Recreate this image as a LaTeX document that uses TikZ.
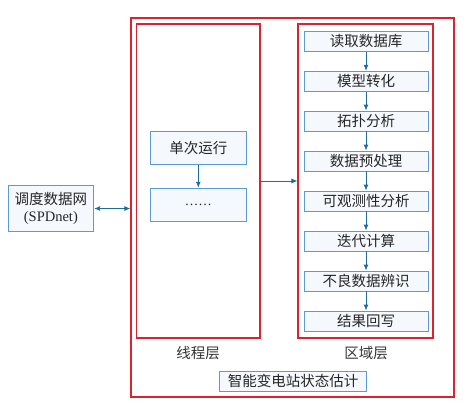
\documentclass[tikz,border=0pt]{standalone}
\usepackage{fontspec}
\setmainfont{Liberation Serif}
\newfontfamily\cjk{Noto Sans CJK SC}
\usetikzlibrary{arrows.meta}
\definecolor{redline}{HTML}{D9232D}
\definecolor{blueline}{HTML}{5B9BD5}
\definecolor{boxfill}{HTML}{F5F8FC}
\definecolor{arrowc}{HTML}{1F6E9A}
\begin{document}
\begin{tikzpicture}[x=1pt,y=-1pt,
  redbox/.style={draw=redline,line width=1.1pt,inner sep=0pt,anchor=center},
  bluebox/.style={draw=blueline,fill=boxfill,line width=0.9pt,inner sep=0pt,font=\cjk\fontsize{14.5}{16}\selectfont,text=black!85},
  stepbox/.style={bluebox,minimum width=124pt,minimum height=20pt},
  arr/.style={draw=arrowc,line width=0.9pt,-{Latex[length=6pt,width=5pt]}},
  darr/.style={draw=arrowc,line width=0.9pt,{Latex[length=6pt,width=5pt]}-{Latex[length=6pt,width=5pt]}},
  lbl/.style={font=\cjk\fontsize{14.5}{16}\selectfont,text=black!80}]
\useasboundingbox (0,0) rectangle (466,410);
\node[redbox,minimum width=323pt,minimum height=379pt] (outer) at (292.5,207.5) {};
\node[redbox,minimum width=123.5pt,minimum height=314pt] (thread) at (198.25,181) {};
\node[redbox,minimum width=135pt,minimum height=314pt] (region) at (365.5,181) {};
\node[stepbox] (s1) at (366,41.5) {读取数据库};
\node[stepbox] (s2) at (366,81.3) {模型转化};
\node[stepbox] (s3) at (366,121) {拓扑分析};
\node[stepbox] (s4) at (366,161) {数据预处理};
\node[stepbox] (s5) at (366,201) {可观测性分析};
\node[stepbox] (s6) at (366,241) {迭代计算};
\node[stepbox] (s7) at (366,281) {不良数据辨识};
\node[stepbox] (s8) at (366,321) {结果回写};
\foreach \a/\b in {s1/s2,s2/s3,s3/s4,s4/s5,s5/s6,s6/s7,s7/s8}
  \draw[arr] (\a.south) -- (\b.north);
\node[bluebox,minimum width=96pt,minimum height=33pt] (run) at (198.3,147.8) {单次运行};
\node[bluebox,minimum width=96pt,minimum height=33pt,font=\fontsize{13.5}{15}\selectfont] (dots) at (198.3,204.7) {……};
\draw[arr] (run.south) -- (dots.north);
\draw[arr] (thread.east) -- (region.west);
\node[bluebox,minimum width=85.7pt,minimum height=45.6pt,align=center,font=\fontsize{14.5}{17}\selectfont] (spd) at (50.85,208.5) {{\cjk 调度数据网}\\(SPDnet)};
\draw[darr] (spd.east) -- (spd.east -| outer.west);
\node[lbl] (tl) at (198,352.7) {线程层};
\node[lbl] (rl) at (366,352.7) {区域层};
\node[bluebox,minimum width=147.4pt,minimum height=19.3pt] (title) at (293,381.3) {智能变电站状态估计};
\end{tikzpicture}
\end{document}
